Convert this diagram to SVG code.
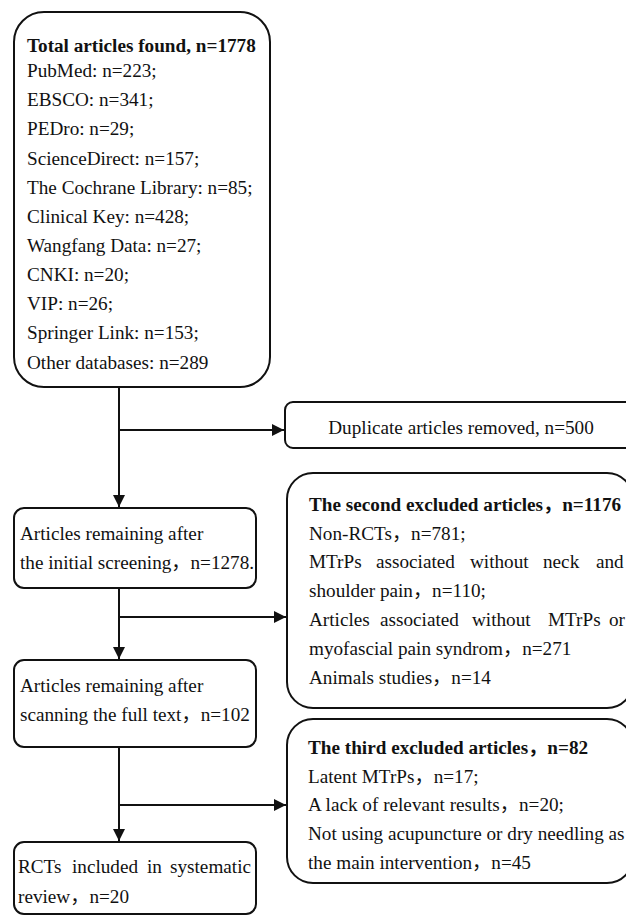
<svg xmlns="http://www.w3.org/2000/svg" width="626" height="917" viewBox="0 0 626 917">
<defs>
<style>
.box{fill:#fff;stroke:#111;stroke-width:2}
.t{font-family:"Liberation Serif","Noto Sans CJK SC",serif;font-size:19.2px;fill:#111}
.b{font-weight:bold}
.c{stroke:#111;stroke-width:2;fill:none}
</style>
<marker id="ah" viewBox="0 0 10 10" refX="10" refY="5" markerWidth="12" markerHeight="12" markerUnits="userSpaceOnUse" orient="auto">
<path d="M0,0 L10,5 L0,10 z" fill="#111"/>
</marker>
</defs>
<rect width="626" height="917" fill="#fff"/>
<g id="connectors">
<line class="c" x1="119" y1="387" x2="119" y2="507" marker-end="url(#ah)"/>
<line class="c" x1="119" y1="430" x2="284" y2="430" marker-end="url(#ah)"/>
<line class="c" x1="119" y1="588" x2="119" y2="659" marker-end="url(#ah)"/>
<line class="c" x1="119" y1="617" x2="286" y2="617" marker-end="url(#ah)"/>
<line class="c" x1="119" y1="747" x2="119" y2="841" marker-end="url(#ah)"/>
<line class="c" x1="119" y1="805" x2="286" y2="805" marker-end="url(#ah)"/>
</g>
<g id="total">
<rect class="box" x="14" y="12" width="256" height="375" rx="30"/>
<text class="t b" x="27" y="52">Total articles found, n=1778</text>
<text class="t" x="27" y="77">PubMed: n=223;</text>
<text class="t" x="27" y="106">EBSCO: n=341;</text>
<text class="t" x="27" y="135">PEDro: n=29;</text>
<text class="t" x="27" y="165">ScienceDirect: n=157;</text>
<text class="t" x="27" y="194">The Cochrane Library: n=85;</text>
<text class="t" x="27" y="223">Clinical Key: n=428;</text>
<text class="t" x="27" y="252">Wangfang Data: n=27;</text>
<text class="t" x="27" y="281">CNKI: n=20;</text>
<text class="t" x="27" y="310">VIP: n=26;</text>
<text class="t" x="27" y="339">Springer Link: n=153;</text>
<text class="t" x="27" y="369">Other databases: n=289</text>
</g>
<g id="duplicate">
<rect class="box" x="285" y="402" width="360" height="46" rx="8"/>
<text class="t" x="461" y="434" text-anchor="middle">Duplicate articles removed, n=500</text>
</g>
<g id="initial">
<rect class="box" x="14" y="508" width="242" height="80" rx="10"/>
<text class="t" x="20" y="540">Articles remaining after</text>
<text class="t" x="20" y="569">the initial screening，n=1278.</text>
</g>
<g id="second">
<rect class="box" x="287" y="473" width="346" height="235" rx="26"/>
<text class="t b" x="309" y="511">The second excluded articles，n=1176</text>
<text class="t" x="309" y="540">Non-RCTs，n=781;</text>
<text class="t" y="568"><tspan x="309">MTrPs</tspan><tspan x="376">associated</tspan><tspan x="470">without</tspan><tspan x="543">neck</tspan><tspan x="596">and</tspan></text>
<text class="t" x="309" y="597">shoulder pain，n=110;</text>
<text class="t" y="626"><tspan x="309">Articles</tspan><tspan x="380">associated</tspan><tspan x="472">without</tspan><tspan x="548">MTrPs</tspan><tspan x="609">or</tspan></text>
<text class="t" x="309" y="655">myofascial pain syndrom，n=271</text>
<text class="t" x="309" y="684">Animals studies，n=14</text>
</g>
<g id="fulltext">
<rect class="box" x="14" y="660" width="242" height="87" rx="10"/>
<text class="t" x="20" y="692">Articles remaining after</text>
<text class="t" x="20" y="721">scanning the full text，n=102</text>
</g>
<g id="third">
<rect class="box" x="287" y="719" width="346" height="164" rx="26"/>
<text class="t b" x="308" y="754">The third excluded articles，n=82</text>
<text class="t" x="308" y="783">Latent MTrPs，n=17;</text>
<text class="t" x="308" y="811">A lack of relevant results，n=20;</text>
<text class="t" x="308" y="840">Not using acupuncture or dry needling as</text>
<text class="t" x="308" y="869">the main intervention，n=45</text>
</g>
<g id="included">
<rect class="box" x="14" y="842" width="242" height="72" rx="10"/>
<text class="t" y="873"><tspan x="18">RCTs</tspan><tspan x="72">included</tspan><tspan x="147">in</tspan><tspan x="170">systematic</tspan></text>
<text class="t" x="18" y="903">review，n=20</text>
</g>
</svg>
